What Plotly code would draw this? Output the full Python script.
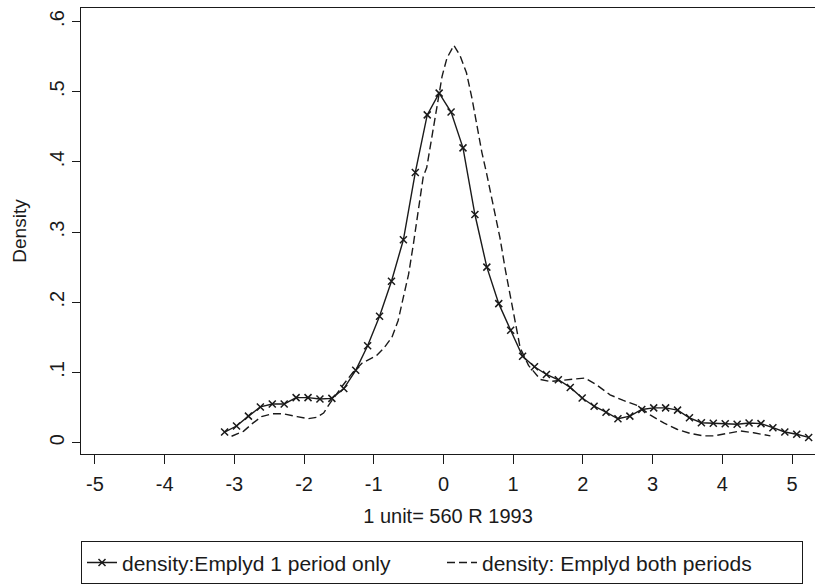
import plotly.graph_objects as go

# Series 1: density, employed 1 period only (solid with x markers)
x_one = [-3.14, -2.969, -2.798, -2.627, -2.456, -2.285, -2.114, -1.943, -1.772, -1.601,
         -1.43, -1.259, -1.088, -0.917, -0.746, -0.575, -0.404, -0.233, -0.062, 0.109,
         0.28, 0.451, 0.622, 0.793, 0.964, 1.135, 1.306, 1.477, 1.648, 1.819,
         1.99, 2.161, 2.332, 2.503, 2.674, 2.845, 3.016, 3.187, 3.358, 3.529,
         3.7, 3.871, 4.042, 4.213, 4.384, 4.555, 4.726, 4.897, 5.068, 5.239]
y_one = [0.015, 0.0236, 0.0377, 0.0508, 0.055, 0.055, 0.064, 0.064, 0.062, 0.063,
         0.077, 0.103, 0.138, 0.180, 0.230, 0.289, 0.385, 0.467, 0.498, 0.471,
         0.420, 0.325, 0.250, 0.198, 0.160, 0.123, 0.108, 0.097, 0.0895, 0.0786,
         0.0635, 0.0518, 0.0433, 0.0339, 0.0377, 0.0472, 0.0494, 0.0494, 0.0462, 0.0353,
         0.0282, 0.0274, 0.0268, 0.026, 0.0278, 0.027, 0.0212, 0.0151, 0.0119, 0.0073]

# Series 2: density, employed both periods (dashed)
x_both = [-3.04, -2.87, -2.73, -2.61, -2.46, -2.30, -2.10, -1.94, -1.82, -1.72,
          -1.63, -1.53, -1.44, -1.30, -1.17, -0.96, -0.86, -0.74, -0.65, -0.58,
          -0.50, -0.43, -0.36, -0.29, -0.24, -0.17, -0.095, -0.02, 0.05, 0.15,
          0.24, 0.33, 0.41, 0.48, 0.55, 0.62, 0.69, 0.76, 0.81, 0.89,
          0.98, 1.05, 1.10, 1.22, 1.39, 1.53, 1.70, 1.87, 2.03, 2.20,
          2.39, 2.58, 2.78, 2.97, 3.16, 3.35, 3.54, 3.73, 3.88, 4.07,
          4.26, 4.45, 4.64, 4.69]
y_both = [0.009, 0.016, 0.028, 0.037, 0.041, 0.041, 0.037, 0.034, 0.036, 0.042,
          0.056, 0.070, 0.082, 0.100, 0.113, 0.124, 0.134, 0.150, 0.174, 0.205,
          0.240, 0.284, 0.332, 0.379, 0.392, 0.433, 0.480, 0.522, 0.548, 0.566,
          0.551, 0.527, 0.490, 0.452, 0.414, 0.383, 0.350, 0.318, 0.292, 0.245,
          0.198, 0.160, 0.135, 0.110, 0.090, 0.087, 0.089, 0.091, 0.092, 0.082,
          0.068, 0.060, 0.053, 0.039, 0.028, 0.019, 0.013, 0.0095, 0.0095, 0.013,
          0.0165, 0.014, 0.0105, 0.0095]

x_ticks = [-5, -4, -3, -2, -1, 0, 1, 2, 3, 4, 5]
x_ticktext = ["-5", "-4", "-3", "-2", "-1", "0", "1", "2", "3", "4", "5"]
y_ticks = [0, 0.1, 0.2, 0.3, 0.4, 0.5, 0.6]
y_ticktext = ["0", ".1", ".2", ".3", ".4", ".5", ".6"]

INK = "#1a1a1a"
FONT = "Liberation Sans, Arial, sans-serif"

fig = go.Figure()
fig.add_trace(go.Scatter(
    x=x_one, y=y_one, mode="lines+markers",
    name="density:Emplyd 1 period only",
    line=dict(color=INK, width=1.4),
    marker=dict(symbol="x-thin", size=7, line=dict(color=INK, width=1.5), color=INK),
))
fig.add_trace(go.Scatter(
    x=x_both, y=y_both, mode="lines",
    name="density: Emplyd both periods",
    line=dict(color=INK, width=1.4, dash="8px,4px"),
))

fig.update_layout(
    width=815, height=585,
    margin=dict(l=81, r=0, t=8, b=127),
    paper_bgcolor="white", plot_bgcolor="white",
    font=dict(family=FONT, size=20, color=INK),
    showlegend=True,
    legend=dict(
        orientation="h", x=0.0, xanchor="left", y=-0.196, yanchor="top",
        bordercolor=INK, borderwidth=1, font=dict(size=21),
        entrywidth=315, entrywidthmode="pixels", itemsizing="trace", tracegroupgap=0,
    ),
)
fig.update_xaxes(
    range=[-5.2, 5.33], tickvals=x_ticks, ticktext=x_ticktext,
    showgrid=False, zeroline=False, showline=True, linecolor=INK, linewidth=1.4,
    mirror=True, ticks="outside", ticklen=9, tickwidth=1.3, tickcolor=INK,
    tickfont=dict(size=20), ticklabelstandoff=3,
    title=dict(text="1 unit= 560 R 1993", font=dict(size=20), standoff=14),
)
fig.update_yaxes(
    range=[-0.0163, 0.6193], tickvals=y_ticks, ticktext=y_ticktext,
    showgrid=False, zeroline=False, showline=True, linecolor=INK, linewidth=1.4,
    mirror=False, ticks="outside", ticklen=8, tickwidth=1.3, tickcolor=INK,
    tickangle=-90, tickfont=dict(size=20),
    title=dict(text="Density", font=dict(size=19), standoff=14),
)

fig.write_html("out.html")
